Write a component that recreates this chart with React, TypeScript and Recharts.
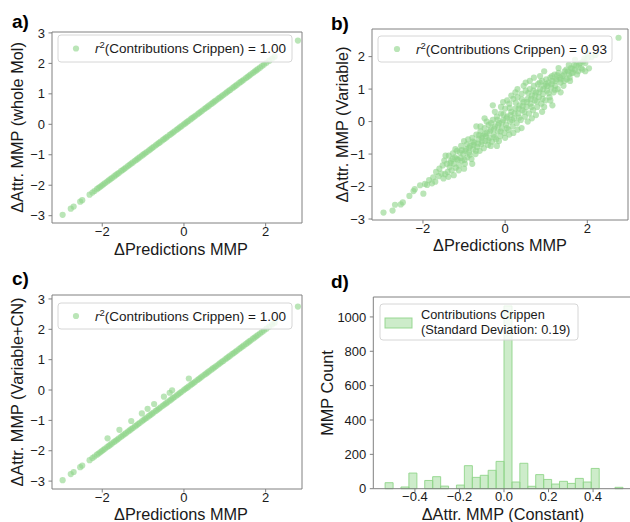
import React from 'react';
import { ScatterChart, Scatter, XAxis, YAxis, BarChart, Bar } from 'recharts';

const FONT = '"Liberation Sans", Arial, Helvetica, sans-serif';
const GREEN = '#90d58a';
const SPINE = '#808080';
const TEXT = '#1a1a1a';

// ---- data ----
// ΔPredictions = ΔAttr along the diagonal (panels a and c)
const lineValues = [
  -2.97, -2.77, -2.7, -2.54, -2.49, -2.31, -2.24, -2.19, -2.13, -2.09, -2.05, -2.01, -1.97, -1.93,
  -1.88, -1.84, -1.8, -1.76, -1.71, -1.67, -1.63, -1.59, -1.54, -1.5, -1.46, -1.42, -1.37, -1.33,
  -1.29, -1.25, -1.2, -1.16, -1.12, -1.08, -1.03, -0.99, -0.95, -0.91, -0.86, -0.82, -0.78, -0.74,
  -0.69, -0.65, -0.61, -0.57, -0.52, -0.48, -0.44, -0.4, -0.35, -0.31, -0.27, -0.23, -0.18, -0.14,
  -0.1, -0.06, -0.01, 0.03, 0.07, 0.11, 0.16, 0.2, 0.24, 0.28, 0.33, 0.37, 0.41, 0.45, 0.5, 0.54,
  0.58, 0.62, 0.67, 0.71, 0.75, 0.79, 0.84, 0.88, 0.92, 0.96, 1.01, 1.05, 1.09, 1.13, 1.18, 1.22,
  1.26, 1.3, 1.35, 1.39, 1.43, 1.47, 1.52, 1.56, 1.6, 1.64, 1.69, 1.73, 1.77, 1.81, 1.86, 1.91,
  1.96, 2.02, 2.09, 2.16, 2.22,
];
const aExtra: [number, number][] = [[2.79, 2.75]];
const cExtra: [number, number][] = [
  [-1.87, -1.59], [-1.58, -1.31], [-1.29, -1.02], [-1.03, -0.77], [-0.89, -0.62], [-0.73, -0.46],
  [-0.49, -0.22], [-0.35, -0.09], [-0.29, -0.01], [0.12, 0.38], [2.79, 2.75],
];
const bPoints: [number, number][] = [
  [-2.96, -2.8], [-2.74, -2.74], [-2.68, -2.56], [-2.54, -2.55], [-2.49, -2.49], [-2.33, -2.29],
  [-2.23, -2.14], [-2.2, -2.08], [-2.07, -1.96], [-1.99, -2.22], [-1.95, -1.92], [-1.9, -1.95],
  [-1.85, -1.8], [-1.78, -1.9], [-1.75, -1.72], [-1.7, -1.85], [-1.68, -1.55], [-1.62, -1.68],
  [-1.6, -1.45], [-1.55, -1.6], [-1.52, -1.35], [-1.5, -1.75],
  [-1.48, -1.2], [-1.46, -1.62], [-1.42, -1.3], [-1.4, -1.55], [-1.37, -1.05], [-1.35, -1.4],
  [-1.32, -1.22], [-1.3, -1.5], [-1.27, -0.98], [-1.25, -1.3], [-1.22, -1.1], [-1.2, -1.42],
  [-1.17, -0.9], [-1.15, -1.18], [-1.12, -1.35], [-1.1, -0.95], [-1.07, -0.75], [-1.05, -1.2],
  [-1.02, -1.0], [-1.0, -0.6], [-0.98, -1.3], [-0.95, -0.85], [-0.92, -1.1], [-0.9, -0.55],
  [-0.88, -0.95], [-0.85, -0.75], [-0.82, -1.15], [-0.8, -0.5], [-0.78, -0.85], [-0.75, -0.65],
  [-0.72, -1.0], [-0.7, -0.4], [-0.68, -0.78], [-0.65, -0.55], [-0.62, -0.9], [-0.6, -0.3],
  [-0.58, -0.7], [-0.55, -0.45], [-0.52, -0.82], [-0.5, -0.2], [-0.48, -0.6], [-0.45, -0.35],
  [-0.42, -0.72], [-0.4, -0.1], [-0.38, -0.5], [-0.35, -0.25], [-0.32, -0.62], [-0.3, 0.05],
  [-0.28, -0.4], [-0.25, -0.15], [-0.22, -0.55], [-0.2, 0.15], [-0.18, -0.3], [-0.15, -0.05],
  [-0.12, -0.45], [-0.1, 0.25], [-0.08, -0.2], [-0.05, 0.05], [-0.02, -0.35], [0.0, 0.4],
  [0.02, -0.1], [0.05, 0.15], [0.08, -0.25], [0.1, 0.55], [0.12, 0.0], [0.15, 0.3], [0.18, -0.15],
  [0.2, 0.7], [0.22, 0.1], [0.25, 0.4], [0.28, -0.05], [0.3, 0.75], [0.32, 0.25], [0.35, 0.5],
  [0.38, 0.05], [0.4, 0.85], [0.42, 0.35], [0.45, 0.6], [0.48, 0.15], [0.5, 0.95], [0.52, 0.45],
  [0.55, 0.7], [0.58, 0.25], [0.6, 1.0], [0.62, 0.55], [0.65, 0.8], [0.68, 0.35], [0.7, 1.1],
  [0.72, 0.65], [0.75, 0.9], [0.78, 0.45], [0.8, 1.15], [0.82, 0.75], [0.85, 1.0], [0.88, 0.55],
  [0.9, 1.25], [0.92, 0.85], [0.95, 1.1], [0.98, 0.65], [1.0, 1.3], [1.02, 0.95], [1.05, 1.2],
  [1.08, 0.75], [1.1, 1.35], [1.12, 1.05], [1.15, 1.25], [1.18, 0.9], [1.2, 1.45], [1.22, 1.1],
  [1.25, 1.3], [1.28, 1.0], [1.3, 1.5], [1.35, 1.2], [1.4, 1.4], [1.42, 1.1], [1.45, 1.55],
  [1.5, 1.3], [1.55, 1.45], [1.58, 1.25], [1.6, 1.65], [1.65, 1.5], [1.7, 1.6], [1.75, 1.45],
  [1.8, 1.75], [1.85, 1.65], [1.9, 1.85], [1.95, 1.8], [2.0, 1.95], [2.04, 1.64], [2.1, 1.98],
  [2.2, 2.05], [2.76, 2.58],
  [-1.33, -1.28], [-1.18, -1.15], [-1.08, -1.12], [-0.97, -0.9], [-0.87, -0.8], [-0.77, -0.72],
  [-0.66, -0.68], [-0.57, -0.5], [-0.47, -0.45], [-0.37, -0.3], [-0.27, -0.22], [-0.17, -0.12],
  [-0.07, -0.02], [0.03, 0.1], [0.13, 0.2], [0.23, 0.25], [0.33, 0.4], [0.43, 0.48], [0.53, 0.6],
  [0.63, 0.7], [0.73, 0.8], [0.83, 0.9], [0.93, 1.0], [1.03, 1.1], [1.13, 1.15], [1.23, 1.25],
  [1.33, 1.35], [1.43, 1.45], [1.53, 1.55], [1.63, 1.62], [1.73, 1.72],
  [-0.6, -0.15], [-0.45, 0.0], [-0.25, 0.3], [-0.1, 0.45], [0.05, 0.65], [0.15, 0.8], [0.3, 1.0],
  [0.45, 1.1], [-0.2, -0.75], [0.0, -0.5], [0.2, -0.35], [0.4, -0.2], [0.55, 0.0], [0.75, 0.2],
  [0.95, 0.45], [1.1, 0.65], [-1.0, -1.45], [-0.8, -1.3], [-0.3, 0.5], [0.6, 1.25], [0.85, 1.4],
  [1.3, 1.65], [1.55, 1.75], [1.7, 1.9], [2.0, 2.1], [1.95, 1.55],
  [-1.45, -1.05], [-1.38, -1.7], [-1.28, -1.15], [-1.21, -0.85], [-1.13, -1.5], [-1.06, -0.88],
  [-0.99, -1.18], [-0.93, -0.7], [-0.86, -1.02], [-0.79, -0.62], [-0.71, -0.9], [-0.63, -0.42],
  [-0.56, -0.62], [-0.49, -0.38], [-0.41, -0.58], [-0.34, -0.05], [-0.26, -0.48], [-0.19, 0.05],
  [-0.11, -0.3], [-0.04, 0.22], [0.04, -0.2], [0.11, 0.42], [0.17, 0.05], [0.26, 0.58],
  [0.34, 0.12], [0.41, 0.68], [0.47, 0.3], [0.56, 0.88], [0.64, 0.45], [0.69, 0.95], [0.77, 0.62],
  [0.84, 1.2], [0.91, 0.7], [0.99, 1.15], [1.06, 0.88], [1.14, 1.4], [1.21, 0.98], [1.27, 1.42],
  [1.36, 1.3], [1.44, 1.25], [1.49, 1.6], [1.57, 1.35], [1.62, 1.5], [1.68, 1.75], [1.78, 1.55],
  [1.83, 1.8], [1.88, 1.6], [1.93, 1.95], [-0.35, -0.75], [-0.15, -0.6], [0.1, -0.4],
  [0.3, -0.25], [-0.5, 0.1], [-0.7, -0.15], [0.25, 0.9], [0.5, 1.2], [0.7, 1.35], [0.95, 1.55],
  [1.15, 0.5], [1.35, 0.9], [-1.25, -1.65], [-0.05, 0.6], [0.65, 0.1], [0.9, 0.3],
];

// histogram (panel d)
const binCenters = [
  -0.5162, -0.4806, -0.445, -0.4094, -0.3738, -0.3382, -0.3026, -0.267, -0.2314, -0.1958, -0.1602,
  -0.1246, -0.089, -0.0534, -0.0178, 0.0178, 0.0534, 0.089, 0.1246, 0.1602, 0.1958, 0.2314, 0.267,
  0.3026, 0.3382, 0.3738, 0.4094, 0.445, 0.4806, 0.5162,
];
const binCounts = [
  35, 0, 10, 91, 0, 48, 70, 15, 0, 21, 134, 66, 78, 107, 159, 1064, 39, 148, 14, 82, 54, 27, 43,
  31, 60, 39, 118, 0, 0, 8,
];

const scatterXTicks = [-2, 0, 2];
const aYTicks = [-3, -2, -1, 0, 1, 2, 3];
const bYTicks = [-3, -2, -1, 0, 1, 2];
const dXTicks = [-0.4, -0.2, 0, 0.2, 0.4];
const dYTicks = [0, 200, 400, 600, 800, 1000];

const aData = [...lineValues.map((v) => ({ x: v, y: v })), ...aExtra.map(([x, y]) => ({ x, y }))];
const cData = [...lineValues.map((v) => ({ x: v, y: v })), ...cExtra.map(([x, y]) => ({ x, y }))];
const bData = bPoints.map(([x, y]) => ({ x, y }));
const dData = binCenters.map((c, i) => ({ center: c, count: binCounts[i] }));

const minus = (s: string) => s.replace('-', '\u2212');
const fmtInt = (v: number) => minus(String(v));
const fmt1 = (v: number) => minus(v.toFixed(1));

type Rect = { l: number; t: number; r: number; b: number };

const tickStyle = { fontSize: 13, fill: TEXT, fontFamily: FONT };
const AX = 1; // axis box thickness

const Dot = (p: any) => <circle cx={p.cx} cy={p.cy} r={3.1} fill={GREEN} fillOpacity={0.62} />;

function ScatterPanel({
  data, rect, xDomain, yDomain, yTicks,
}: { data: any[]; rect: Rect; xDomain: [number, number]; yDomain: [number, number]; yTicks: number[] }) {
  return (
    <div style={{ position: 'absolute', left: 0, top: 0 }}>
      <ScatterChart
        width={630}
        height={522}
        margin={{ left: rect.l - AX, top: rect.t - AX, right: 630 - rect.r - AX, bottom: 522 - rect.b - AX }}
      >
        <XAxis xAxisId="b" type="number" dataKey="x" domain={xDomain} ticks={scatterXTicks} interval={0}
          height={AX} tickSize={3.5} tickMargin={0} tick={tickStyle} tickFormatter={fmtInt}
          axisLine={{ stroke: SPINE }} tickLine={{ stroke: SPINE }} />
        <XAxis xAxisId="t" orientation="top" type="number" dataKey="x" domain={xDomain} height={AX}
          tick={false} tickLine={false} axisLine={{ stroke: SPINE }} />
        <YAxis yAxisId="l" type="number" dataKey="y" domain={yDomain} ticks={yTicks} interval={0}
          width={AX} tickSize={3.5} tickMargin={3.5} tick={tickStyle} tickFormatter={fmtInt}
          axisLine={{ stroke: SPINE }} tickLine={{ stroke: SPINE }} />
        <YAxis yAxisId="r" orientation="right" type="number" dataKey="y" domain={yDomain} width={AX}
          tick={false} tickLine={false} axisLine={{ stroke: SPINE }} />
        <Scatter xAxisId="b" yAxisId="l" data={data} shape={Dot} isAnimationActive={false} />
      </ScatterChart>
    </div>
  );
}

function HistPanel() {
  const rect: Rect = { l: 373.3, t: 297, r: 634.7, b: 488.7 };
  const W = 640;
  return (
    <div style={{ position: 'absolute', left: 0, top: 0 }}>
      <BarChart
        width={W}
        height={522}
        data={dData}
        barCategoryGap={0}
        barGap={0}
        margin={{ left: rect.l - AX, top: rect.t - AX, right: W - rect.r - AX, bottom: 522 - rect.b - AX }}
      >
        <XAxis xAxisId="b" type="number" dataKey="center" domain={[-0.587, 0.587]} ticks={dXTicks}
          interval={0} height={AX} tickSize={3.5} tickMargin={0} tick={tickStyle} tickFormatter={fmt1}
          axisLine={{ stroke: SPINE }} tickLine={{ stroke: SPINE }} />
        <XAxis xAxisId="t" orientation="top" type="number" dataKey="center" domain={[-0.587, 0.587]}
          height={AX} tick={false} tickLine={false} axisLine={{ stroke: SPINE }} />
        <YAxis yAxisId="l" type="number" domain={[0, 1116]} ticks={dYTicks} interval={0} width={AX}
          tickSize={3.5} tickMargin={3.5} tick={tickStyle} axisLine={{ stroke: SPINE }}
          tickLine={{ stroke: SPINE }} />
        <YAxis yAxisId="r" orientation="right" type="number" domain={[0, 1116]} width={AX}
          tick={false} tickLine={false} axisLine={{ stroke: SPINE }} />
        <Bar xAxisId="b" yAxisId="l" dataKey="count" fill={GREEN} fillOpacity={0.45}
          stroke={GREEN} strokeOpacity={0.9} strokeWidth={1} isAnimationActive={false} />
      </BarChart>
    </div>
  );
}

function ScatterLegend({ x, y, w, h, mx, tx, value }: any) {
  return (
    <g>
      <rect x={x} y={y} width={w} height={h} rx={3} fill="#fff" fillOpacity={0.8} stroke="#d6d6d6" />
      <circle cx={mx} cy={y + h / 2} r={3.1} fill={GREEN} fillOpacity={0.62} />
      <text x={tx} y={y + h / 2 + 4.8} textAnchor="end" fontSize={13.5} fill={TEXT} fontFamily={FONT}>
        <tspan fontStyle="italic">r</tspan>
        <tspan dy={-5} fontSize={9.5}>2</tspan>
        <tspan dy={5}>(Contributions Crippen) = {value}</tspan>
      </text>
    </g>
  );
}

function Overlay() {
  const lab = { fontSize: 16.3, fill: TEXT, fontFamily: FONT };
  const ttl = { fontSize: 19, fontWeight: 700, fill: '#000', fontFamily: FONT };
  return (
    <svg width={630} height={522} style={{ position: 'absolute', left: 0, top: 0, pointerEvents: 'none' }}>
      <text x={12} y={28} {...ttl}>a)</text>
      <text x={331} y={30} {...ttl}>b)</text>
      <text x={12} y={285} {...ttl}>c)</text>
      <text x={331} y={288} {...ttl}>d)</text>

      <text x={181} y={255} textAnchor="middle" {...lab}>ΔPredictions MMP</text>
      <text x={500} y={251} textAnchor="middle" {...lab}>ΔPredictions MMP</text>
      <text x={181} y={519.5} textAnchor="middle" {...lab}>ΔPredictions MMP</text>
      <text x={503} y={520} textAnchor="middle" {...lab}>ΔAttr. MMP (Constant)</text>

      <text transform="translate(23,127.5) rotate(-90)" textAnchor="middle" {...lab}>ΔAttr. MMP (whole Mol)</text>
      <text transform="translate(347.5,124.5) rotate(-90)" textAnchor="middle" {...lab}>ΔAttr. MMP (Variable)</text>
      <text transform="translate(23,392) rotate(-90)" textAnchor="middle" {...lab}>ΔAttr. MMP (Variable+CN)</text>
      <text transform="translate(333,393) rotate(-90)" textAnchor="middle" {...lab}>MMP Count</text>

      <ScatterLegend x={58} y={35} w={234} h={27} mx={76} tx={286} value="1.00" />
      <ScatterLegend x={378} y={36} w={234} h={26} mx={397} tx={607} value="0.93" />
      <ScatterLegend x={58} y={303} w={234} h={26} mx={76} tx={286} value="1.00" />

      <g>
        <rect x={380} y={304} width={198} height={36} rx={3} fill="#fff" fillOpacity={0.8} stroke="#d6d6d6" />
        <rect x={385} y={318} width={27} height={10} fill={GREEN} fillOpacity={0.45} stroke={GREEN} strokeOpacity={0.9} />
        <text x={421} y={318.5} fontSize={12.8} fill={TEXT} fontFamily={FONT}>Contributions Crippen</text>
        <text x={421} y={333.5} fontSize={12.8} fill={TEXT} fontFamily={FONT}>(Standard Deviation: 0.19)</text>
      </g>
    </svg>
  );
}

export default function App() {
  return (
    <div style={{ position: 'absolute', left: 0, top: 0, width: 630, height: 522, overflow: 'hidden', background: '#fff' }}>
      <ScatterPanel data={aData} rect={{ l: 52, t: 32, r: 302, b: 223 }} xDomain={[-3.23, 2.89]} yDomain={[-3.24, 3.03]} yTicks={aYTicks} />
      <ScatterPanel data={bData} rect={{ l: 372, t: 29, r: 628, b: 220 }} xDomain={[-3.24, 2.99]} yDomain={[-3.03, 2.85]} yTicks={bYTicks} />
      <ScatterPanel data={cData} rect={{ l: 52, t: 295, r: 302, b: 489 }} xDomain={[-3.23, 2.89]} yDomain={[-3.26, 3.13]} yTicks={aYTicks} />
      <HistPanel />
      <Overlay />
    </div>
  );
}
